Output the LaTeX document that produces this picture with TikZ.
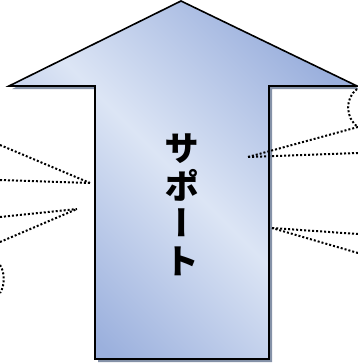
\documentclass[tikz,border=0pt]{standalone}
\usepackage{fontspec}
\newfontfamily\cjk[RawFeature={+vert}]{Noto Sans CJK JP}
\usetikzlibrary{calc}
\definecolor{arrdark}{HTML}{9BB0DD}
\definecolor{arrlight}{HTML}{DCE5F5}
\definecolor{shadowc}{HTML}{8592A8}
\tikzset{
  dotline/.style={line width=2pt, dash pattern=on 2pt off 2pt, black, line join=round},
  arrowbody/.style={draw=black, line width=1.6pt, line join=miter,
    top color=arrdark, bottom color=arrdark, middle color=arrlight, shading angle=-45},
}
\begin{document}
\begin{tikzpicture}[x=1pt,y=-1pt]
\useasboundingbox (0,0) rectangle (358,364);
% shadow
\fill[shadowc] (184,4) -- (12,89) -- (98,89) -- (98,362) -- (272,362) -- (272,89) -- (360,89) -- cycle;
% arrow
\path[arrowbody] (181,1) -- (9,86) -- (95,86) -- (95,359) -- (269,359) -- (269,86) -- (357,86) -- cycle;
\node[inner sep=0pt, align=center, font=\cjk\bfseries\fontsize{35}{37.5}\selectfont] (txt) at (182,205) {サ\\ポ\\ー\\ト};
% left pointers
\coordinate (la) at (90,183);
\coordinate (lb) at (77,209);
\coordinate (l1) at (0,145);
\coordinate (l2) at (0,180);
\coordinate (l3) at (0,217);
\coordinate (l4) at (0,242);
\draw[dotline] (l1) -- (la);
\draw[dotline] (l2) -- (la);
\draw[dotline] (l3) -- (lb);
\draw[dotline] (l4) -- (lb);
\coordinate (lc1) at (0,265);
\coordinate (lc2) at (0,293);
\draw[dotline] (lc1) .. controls (5,272) and (5,286) .. (lc2);
% right pointers
\coordinate (ra) at (248,157);
\coordinate (rb) at (272,228);
\coordinate (r1) at (358,127);
\coordinate (r2) at (358,153);
\coordinate (r3) at (358,234);
\coordinate (r4) at (358,253);
\coordinate (rc1) at (357,89);
\draw[dotline] (rc1) .. controls (345,98) and (345,118) .. (r1);
\draw[dotline] (r1) -- (ra);
\draw[dotline] (r2) -- (ra);
\draw[dotline] (r3) -- (rb);
\draw[dotline] (r4) -- (rb);
\end{tikzpicture}
\end{document}
